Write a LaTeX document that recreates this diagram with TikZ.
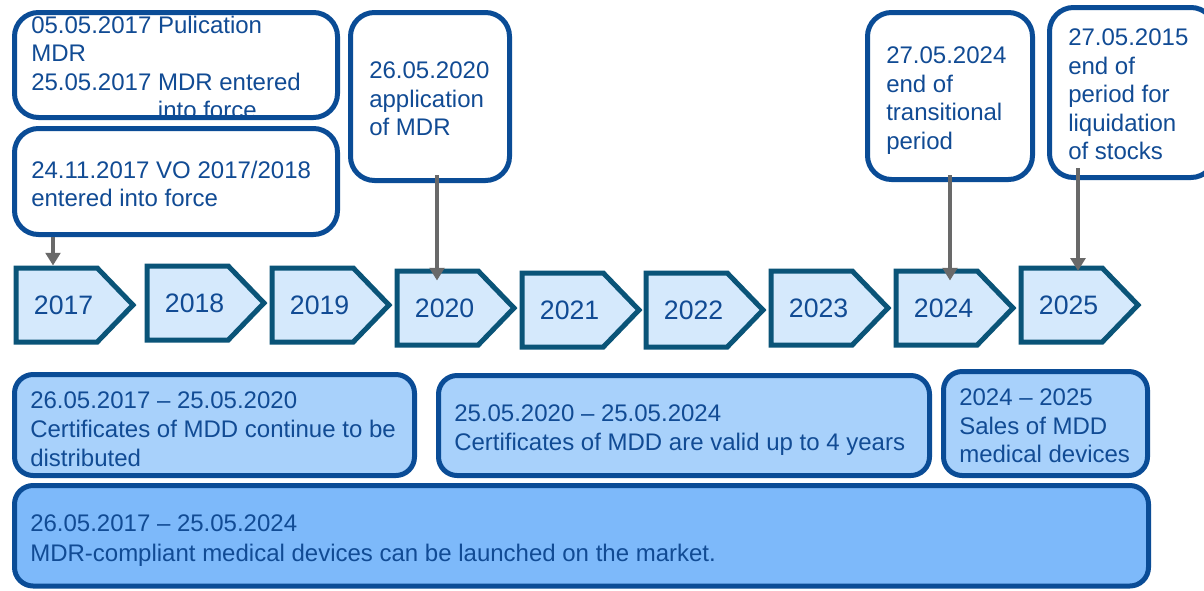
\documentclass[tikz,border=0pt]{standalone}
\usepackage{fontspec}
\setmainfont{Liberation Sans}
\usetikzlibrary{shapes.symbols,fit,arrows.meta}
\definecolor{txtblue}{RGB}{17,75,148}
\definecolor{boxline}{RGB}{10,76,150}
\definecolor{chevline}{RGB}{10,84,120}
\definecolor{chevfill}{RGB}{213,233,252}
\definecolor{lightfill}{RGB}{168,209,251}
\definecolor{midfill}{RGB}{125,185,250}
\definecolor{arrgrey}{RGB}{105,105,105}
\newcommand{\yrtext}[1]{\hspace*{10.5pt}#1}
\tikzset{
  topbox/.style={draw=boxline, line width=3.75pt, rounded corners=18pt, fill=white, inner sep=0pt},
  botbox/.style={draw=boxline, line width=3.75pt, rounded corners=14pt, fill=lightfill, inner sep=0pt},
  bigbox/.style={botbox, fill=midfill},
  txt/.style={anchor=north west, align=left, inner sep=0pt, text=txtblue, font=\fontsize{18}{21.4}\selectfont},
  yr/.style={signal, signal to=east, signal pointer angle=92, draw=chevline, fill=chevfill,
    line width=3.75pt, minimum width=87.75pt, minimum height=55.5pt, inner sep=0pt,
    text=txtblue, font=\fontsize{20}{24}\selectfont},
  arr/.style={draw=arrgrey, line width=2.6pt, -{Triangle[width=11pt,length=9.5pt]}}
}
\begin{document}
\begin{tikzpicture}[x=0.75pt,y=-0.75pt]
\useasboundingbox (0,0) rectangle (1204,590);
\fill[white] (0,0) rectangle (1204,590);

% top boxes
\node[topbox, fit={(14.5,12.5) (337.5,117.5)}] (b1) {};
\node[topbox, fit={(14.5,128.5) (337.5,234.5)}] (b2) {};
\node[topbox, fit={(350.5,12.5) (509.5,180.5)}] (b3) {};
\node[topbox, fit={(867.5,12.5) (1032.5,179.5)}] (b4) {};
\node[topbox, fit={(1049.5,7.5) (1215,177.5)}] (b5) {};

\node[txt] (t1) at (31,15.5) {05.05.2017 Pulication\\MDR\\25.05.2017 MDR entered\\\hspace*{95pt}into force};
\node[txt] (t2) at (31,160.5) {24.11.2017 VO 2017/2018\\entered into force};
\node[txt] (t3) at (369,61.5) {26.05.2020\\application\\of MDR};
\node[txt] (t4) at (886,46.5) {27.05.2024\\end of\\transitional\\period};
\node[txt] (t5) at (1068,28.5) {27.05.2015\\end of\\period for\\liquidation\\of stocks};

% year chevrons
\node[yr, anchor=west] (y17) at (13.5,305) {\yrtext{2017}};
\node[yr, anchor=west] (y18) at (144.5,303) {\yrtext{2018}};
\node[yr, anchor=west] (y19) at (269.5,305) {\yrtext{2019}};
\node[yr, anchor=west] (y20) at (394.5,308) {\yrtext{2020}};
\node[yr, anchor=west] (y21) at (519.5,310) {\yrtext{2021}};
\node[yr, anchor=west] (y22) at (643.5,310) {\yrtext{2022}};
\node[yr, anchor=west] (y23) at (768.5,308) {\yrtext{2023}};
\node[yr, anchor=west] (y24) at (893.5,308) {\yrtext{2024}};
\node[yr, anchor=west] (y25) at (1018.5,305) {\yrtext{2025}};

% arrows
\coordinate (x17) at (53,0);
\coordinate (x20) at (437,0);
\coordinate (x24) at (950,0);
\coordinate (x25) at (1078,0);
\draw[arr] (b2.south -| x17) -- (y17.north -| x17);
\draw[arr, shorten <=-6pt, shorten >=-9pt] (b3.south -| x20) -- (y20.north -| x20);
\draw[arr, shorten <=-5pt, shorten >=-9pt] (b4.south -| x24) -- (y24.north -| x24);
\draw[arr, shorten <=-9pt, shorten >=-4pt] (b5.south -| x25) -- (y25.north -| x25);

% bottom boxes
\node[bigbox, fit={(14.5,485.5) (1148.5,586)}] (B4) {};
\node[botbox, fit={(14.5,374.5) (414.5,475.5)}] (B1) {};
\node[botbox, fit={(438.5,375.5) (929.5,475.5)}] (B2) {};
\node[botbox, fit={(943.5,371.5) (1147.5,475.5)}] (B3) {};

\node[txt, font=\fontsize{18}{21.75}\selectfont] (s1) at (30,391.5) {26.05.2017 – 25.05.2020\\Certificates of MDD continue to be\\distributed};
\node[txt, font=\fontsize{18}{21.75}\selectfont] (s2) at (454,404.5) {25.05.2020 – 25.05.2024\\Certificates of MDD are valid up to 4 years};
\node[txt, font=\fontsize{18}{21.5}\selectfont] (s3) at (959,388.5) {2024 – 2025\\Sales of MDD\\medical devices};
\node[txt, font=\fontsize{18}{22.5}\selectfont] (s4) at (30,514.5) {26.05.2017 – 25.05.2024\\MDR-compliant medical devices can be launched on the market.};
\end{tikzpicture}
\end{document}
